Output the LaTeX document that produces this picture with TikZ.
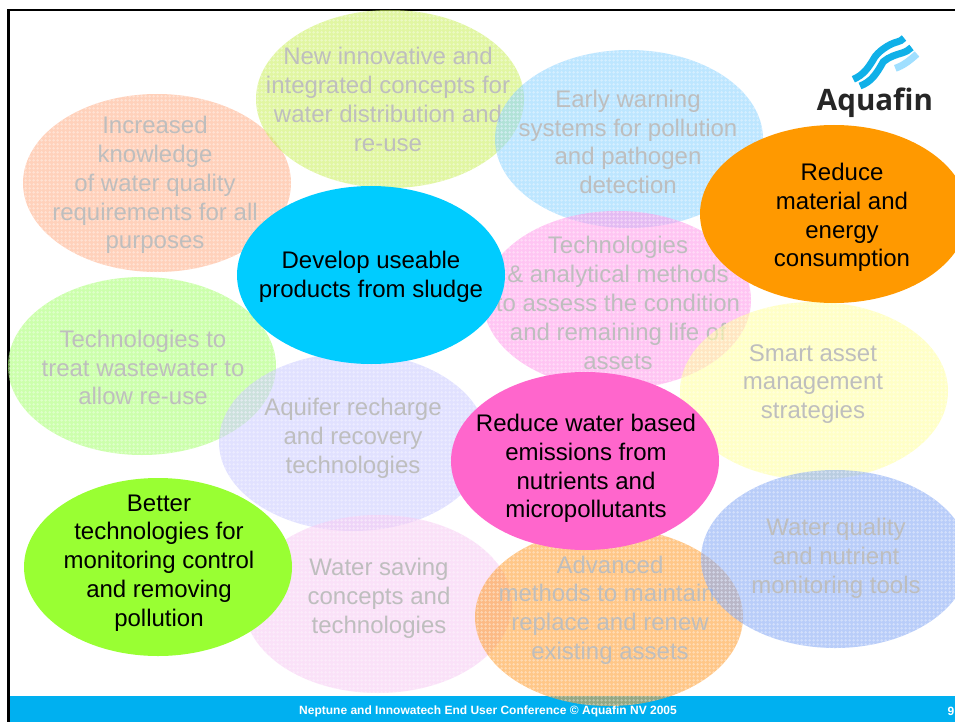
\documentclass[tikz,border=0pt]{standalone}
\usetikzlibrary{shapes.geometric,patterns}
\usepackage{fontspec}
\setmainfont{Liberation Sans}
\newfontfamily\logofont{Open Sans}
\definecolor{footerblue}{HTML}{00B0F0}
\definecolor{paletext}{HTML}{BEBEBE}
\definecolor{sOrange}{HTML}{FF9900}
\definecolor{sBlue}{HTML}{00CCFF}
\definecolor{sPink}{HTML}{FF66CC}
\definecolor{sGreen}{HTML}{99FF33}
\definecolor{pSalmon}{HTML}{FFB08A}
\definecolor{pLime}{HTML}{CCF060}
\definecolor{pSky}{HTML}{8FD4FF}
\definecolor{pPink}{HTML}{FF9CEC}
\definecolor{pYellow}{HTML}{FFFFA0}
\definecolor{pGreen}{HTML}{A8FF70}
\definecolor{pLav}{HTML}{CCCCFF}
\definecolor{pPale}{HTML}{F8CCF4}
\definecolor{pOrange}{HTML}{FF9F33}
\definecolor{pBlue}{HTML}{88AAF5}
\definecolor{logoBlue}{HTML}{10B0E8}
\definecolor{logoLight}{HTML}{A0DFFF}
\pgfdeclarepatternformonly{plusdots}{\pgfqpoint{0pt}{0pt}}{\pgfqpoint{4pt}{4pt}}{\pgfqpoint{4pt}{4pt}}{%
  \pgfpathrectangle{\pgfqpoint{0.5pt}{1.5pt}}{\pgfqpoint{3pt}{1pt}}%
  \pgfpathrectangle{\pgfqpoint{1.5pt}{0.5pt}}{\pgfqpoint{1pt}{3pt}}%
  \pgfusepath{fill}}
\tikzset{
  x=1pt,y=-1pt,
  blob/.style={ellipse,minimum width=268pt,minimum height=178pt,inner sep=0pt,draw=none},
  paleblob/.style={blob,fill=#1,fill opacity=.58,postaction={pattern=plusdots,pattern color=white,fill opacity=.35}},
  fullblob/.style={blob,fill=#1},
  lab/.style={align=center,font=\fontsize{24}{28.8}\selectfont,inner sep=0pt},
  palelab/.style={lab,text=paletext},
  darklab/.style={lab,text=black},
  wave/.style={line width=7pt,line cap=butt},
  foottext/.style={font=\fontsize{12}{14}\bfseries\selectfont,text=white,inner sep=0pt}
}
\begin{document}
\begin{tikzpicture}
\useasboundingbox (0,0) rectangle (955,722);
\fill[white] (0,0) rectangle (955,722);
% frame and footer
\fill[black] (7,9) rectangle (955,11.5);
\fill[black] (7,9) rectangle (9.5,722);
\fill[footerblue] (9.5,696) rectangle (955,722);
\node[foottext] (foot) at (488,711) {Neptune and Innowatech End User Conference © Aquafin NV 2005};
\node[foottext,anchor=east] (pageno) at (954.5,711) {9};
% logo
\draw[wave,color=logoBlue] (853.3,79.3) .. controls (863.3,75) and (868.3,68.3) .. (875,56.7) .. controls (881.7,48.3) and (891.7,43.3) .. (897,42) .. controls (900,41.5) and (902,40) .. (904,38);
\draw[wave,color=logoBlue] (860,86) .. controls (871.7,81.7) and (876.7,73.3) .. (883.3,61.7) .. controls (889,56.7) and (897,54.5) .. (902,53) .. controls (906,51.7) and (909,50) .. (911.5,47.5);
\draw[wave,color=logoLight] (895.3,68.3) .. controls (903,65.5) and (908,62) .. (917,54);
\node[font=\fontsize{29.5}{30}\logofont\bfseries\selectfont,text=black!85,inner sep=0pt] (logo) at (875,103) {Aquafin};
% ellipses
\node[paleblob=pSalmon] (e1) at (157,183) {};
\node[palelab] (t1) at (155,185) {Increased\\knowledge\\of water quality\\requirements for all\\purposes};
\node[paleblob=pLime] (e2) at (390,99) {};
\node[palelab] (t2) at (388,99.5) {New innovative and\\integrated concepts for\\water distribution and\\re-use};
\node[paleblob=pSky] (e3) at (629,139) {};
\node[palelab] (t3) at (628,142) {Early warning\\systems for pollution\\and pathogen\\detection};
\node[paleblob=pPink] (e4) at (617,300) {};
\node[palelab] (t4) at (618,303) {Technologies\\\& analytical methods\\to assess the condition\\and remaining life of\\assets};
\node[paleblob=pYellow] (e5) at (814,391) {};
\node[palelab] (t5) at (813,384) {Smart asset\\management\\strategies};
\node[paleblob=pGreen] (e6) at (142,366) {};
\node[palelab] (t6) at (143,367.5) {Technologies to\\treat wastewater to\\allow re-use};
\node[paleblob=pLav] (e7) at (353,442) {};
\node[palelab] (t7) at (353,438.5) {Aquifer recharge\\and recovery\\technologies};
\node[paleblob=pPale] (e8) at (378,604) {};
\node[palelab] (t8) at (379,598) {Water saving\\concepts and\\technologies};
\node[paleblob=pOrange] (e9) at (609,617) {};
\node[palelab] (t9) at (610,610) {Advanced\\methods to maintain,\\replace and renew\\existing assets};
\node[paleblob=pBlue] (e10) at (835,559) {};
\node[palelab] (t10) at (836,558) {Water quality\\and nutrient\\monitoring tools};
\node[fullblob=sOrange] (s1) at (834,214) {};
\node[darklab] (u1) at (842,217.5) {Reduce\\material and\\energy\\consumption};
\node[fullblob=sBlue] (s2) at (371,275) {};
\node[darklab] (u2) at (371,276.5) {Develop useable\\products from sludge};
\node[fullblob=sPink] (s3) at (585,461) {};
\node[darklab] (u3) at (586,468.5) {Reduce water based\\emissions from\\nutrients and\\micropollutants};
\node[fullblob=sGreen] (s4) at (158,567) {};
\node[darklab] (u4) at (159,563) {Better\\technologies for\\monitoring control\\and removing\\pollution};
\end{tikzpicture}
\end{document}
